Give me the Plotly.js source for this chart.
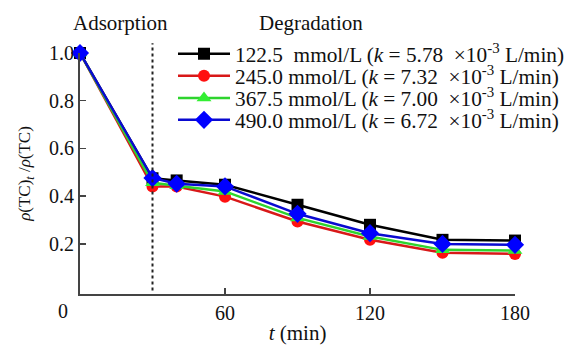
<!DOCTYPE html>
<html>
<head>
<meta charset="utf-8">
<script src="https://cdn.plot.ly/plotly-3.0.1.min.js"></script>
<style>html,body{margin:0;padding:0;background:#fff;}#chart{width:564px;height:345px;}</style>
</head>
<body>
<div id="chart"></div>
<script>
const time = [0, 30, 40, 60, 90, 120, 150, 180];
const seriesNames = [
  "122.5&nbsp; mmol/L (<i>k</i> = 5.78&nbsp; ×10<sup>-3</sup> L/min)",
  "245.0 mmol/L (<i>k</i> = 7.32&nbsp; ×10<sup>-3</sup> L/min)",
  "367.5 mmol/L (<i>k</i> = 7.00&nbsp; ×10<sup>-3</sup> L/min)",
  "490.0 mmol/L (<i>k</i> = 6.72&nbsp; ×10<sup>-3</sup> L/min)"
];
const c1225 = [1.0, 0.475, 0.466, 0.448, 0.364, 0.280, 0.217, 0.214];
const c2450 = [1.0, 0.440, 0.440, 0.398, 0.294, 0.217, 0.163, 0.158];
const c3675 = [1.0, 0.456, 0.444, 0.420, 0.309, 0.231, 0.175, 0.172];
const c4900 = [1.0, 0.476, 0.452, 0.441, 0.326, 0.245, 0.200, 0.196];
const xTicks = [60, 120, 180];
const yTicks = [0.2, 0.4, 0.6, 0.8, 1.0];

const seriesValues = [c1225, c2450, c3675, c4900];
const lineColors = ['#000000', '#d81818', '#2ed42e', '#0a0ad0'];
const markerColors = ['#000000', '#ff1010', '#33ee33', '#0000ff'];
const symbols = ['square', 'circle', 'triangle-up', 'diamond'];
const sizes = [12, 12, 13, 14];
const legendIds = ['legend', 'legend2', 'legend3', 'legend4'];
const legendRowsY = [0.996, 0.905, 0.813, 0.722];

const font = "Liberation Serif, Times New Roman, serif";
const traces = seriesValues.map((v, i) => ({
  x: time, y: v, name: seriesNames[i], type: 'scatter', mode: 'lines+markers',
  cliponaxis: false, legend: legendIds[i],
  line: {color: lineColors[i], width: 2.5},
  marker: {symbol: symbols[i], size: sizes[i], color: markerColors[i]}
}));

const layout = {
  width: 564, height: 345,
  margin: {l: 80, r: 49, t: 53, b: 51, autoexpand: false},
  paper_bgcolor: '#fff', plot_bgcolor: '#fff',
  font: {family: font, size: 20, color: '#111'},
  showlegend: true,
  xaxis: {range: [0, 180], tickvals: xTicks, ticktext: xTicks.map(String),
          ticks: 'inside', ticklen: 6, tickwidth: 1.5, tickcolor: '#444',
          showline: true, linecolor: '#444', linewidth: 2, showgrid: false, zeroline: false,
          title: {text: '<i>t</i> (min)', font: {family: font, size: 21}, standoff: 4}},
  yaxis: {range: [-0.01, 1.0], tickvals: yTicks, ticktext: yTicks.map(v => v.toFixed(1)),
          ticks: 'inside', ticklen: 6, tickwidth: 1.5, tickcolor: '#444',
          showline: true, linecolor: '#444', linewidth: 2, showgrid: false, zeroline: false,
          title: {text: '<i>ρ</i>(TC)<sub><i>t</i></sub> /<i>ρ</i>(TC)', font: {family: font, size: 17}, standoff: 14}},
  shapes: [{type: 'line', xref: 'x', yref: 'paper', x0: 30, x1: 30, y0: 0.015, y1: 1.04,
            line: {color: '#222', width: 2, dash: 'dot'}}],
  annotations: [
    {text: 'Adsorption', xref: 'paper', yref: 'paper', x: 0.092, y: 1.125, showarrow: false,
     xanchor: 'center', yanchor: 'middle', font: {family: font, size: 21, color: '#111'}},
    {text: 'Degradation', xref: 'paper', yref: 'paper', x: 0.53, y: 1.125, showarrow: false,
     xanchor: 'center', yanchor: 'middle', font: {family: font, size: 21, color: '#111'}},
    {text: '0', xref: 'paper', yref: 'paper', x: -0.039, y: -0.07, showarrow: false,
     xanchor: 'center', yanchor: 'middle', font: {family: font, size: 20, color: '#111'}}
  ]
};
legendIds.forEach((id, i) => {
  layout[id] = {x: 0.2138, y: legendRowsY[i], xanchor: 'left', yanchor: 'middle',
    bgcolor: 'rgba(0,0,0,0)', borderwidth: 0, itemwidth: 52,
    font: {family: font, size: 21.3, color: '#111'}};
});

Plotly.newPlot('chart', traces, layout, {displayModeBar: false, staticPlot: true});
</script>
</body>
</html>
